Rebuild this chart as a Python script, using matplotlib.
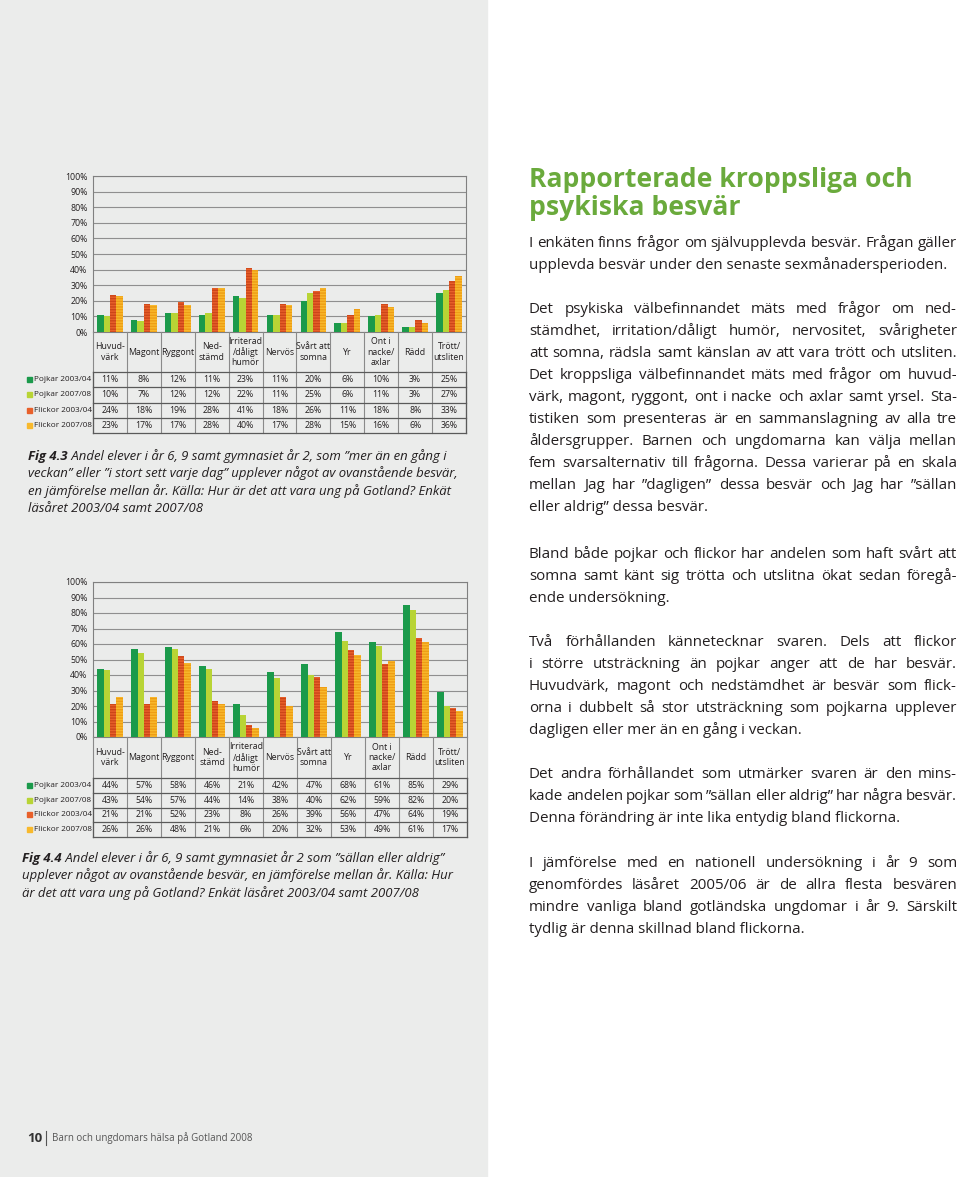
import matplotlib
matplotlib.use("Agg")
import matplotlib.pyplot as plt
import numpy as np
from matplotlib.patches import Rectangle

plt.rcParams['font.family'] = ['Open Sans', 'DejaVu Sans']

# --- data -------------------------------------------------------------
categories = ["Huvud-\nvärk", "Magont", "Ryggont", "Ned-\nstämd",
              "Irriterad\n/dåligt\nhumör", "Nervös", "Svårt att\nsomna", "Yr",
              "Ont i\nnacke/\naxlar", "Rädd", "Trött/\nutsliten"]
series_names = ["Pojkar 2003/04", "Pojkar 2007/08", "Flickor 2003/04", "Flickor 2007/08"]

# fig 4.3: "mer än en gång i veckan" / "i stort sett varje dag"
often_pojkar_0304 = [11, 8, 12, 11, 23, 11, 20, 6, 10, 3, 25]
often_pojkar_0708 = [10, 7, 12, 12, 22, 11, 25, 6, 11, 3, 27]
often_flickor_0304 = [24, 18, 19, 28, 41, 18, 26, 11, 18, 8, 33]
often_flickor_0708 = [23, 17, 17, 28, 40, 17, 28, 15, 16, 6, 36]

# fig 4.4: "sällan eller aldrig"
rarely_pojkar_0304 = [44, 57, 58, 46, 21, 42, 47, 68, 61, 85, 29]
rarely_pojkar_0708 = [43, 54, 57, 44, 14, 38, 40, 62, 59, 82, 20]
rarely_flickor_0304 = [21, 21, 52, 23, 8, 26, 39, 56, 47, 64, 19]
rarely_flickor_0708 = [26, 26, 48, 21, 6, 20, 32, 53, 49, 61, 17]

yticks = np.arange(0, 101, 10)

colors = ['#1b9a4b', '#b8d435', '#e8602a', '#f8b92c']
stripes = [None, None, '#cc4519', '#ee9d15']

PANEL = '#ebeceb'
INK = '#231f20'
GREEN = '#6aaa3c'

W, H = 960, 1177
fig = plt.figure(figsize=(W / 100, H / 100), dpi=100)
fig.patch.set_facecolor('white')
renderer = fig.canvas.get_renderer()


def fx(x):
    return x / W


def fy(y):
    return 1 - y / H


def box(l, t, r, b):
    return [l / W, 1 - b / H, (r - l) / W, (b - t) / H]


def text_w(s, **kw):
    t = fig.text(0, 0, s, **kw)
    w = t.get_window_extent(renderer).width
    t.remove()
    return w


def fit_size(s, target, **kw):
    return 10 * target / text_w(s, fontsize=10, **kw)


# grey left half of the page
fig.add_artist(Rectangle((0, 0), fx(487), 1, transform=fig.transFigure,
                         color=PANEL, zorder=-10))

legend_size = 5.9


def draw_chart(p_top, p_bot, cat_bot, tab_bot, right, data):
    left = 93
    fs = 6.3
    ax = fig.add_axes(box(left, p_top, right, p_bot))
    ax.set_facecolor(PANEL)
    x = np.arange(len(categories))
    w = 0.19
    for i, vals in enumerate(data):
        ax.bar(x + (i - 1.5) * w, vals, width=w, color=colors[i],
               edgecolor=stripes[i] or colors[i],
               hatch='------' if stripes[i] else None,
               linewidth=0, zorder=3)
    ax.set_xlim(-0.5, len(categories) - 0.5)
    ax.set_ylim(0, 100)
    ax.set_yticks(yticks)
    ax.set_yticklabels([f"{v}%" for v in yticks], fontsize=fs)
    ax.tick_params(axis='y', length=0, pad=4, colors=INK)
    ax.set_xticks([])
    ax.yaxis.grid(True, color='#8f8f8f', linewidth=0.8)
    ax.set_axisbelow(True)
    for s in ax.spines.values():
        s.set_color('#808080')
        s.set_linewidth(0.8)

    # table under the chart
    tb = fig.add_axes(box(left, p_bot, right, tab_bot))
    th = tab_bot - p_bot
    ch = cat_bot - p_bot
    rh = (tab_bot - cat_bot) / len(data)
    tb.set_xlim(-0.5, len(categories) - 0.5)
    tb.set_ylim(th, 0)
    tb.axis('off')
    for k in range(len(categories) + 1):
        tb.plot([k - 0.5, k - 0.5], [0, th], color='#8a8a8a', lw=0.8, clip_on=False)
    for r in range(len(data) + 1):
        y = ch + r * rh
        tb.plot([-0.5, len(categories) - 0.5], [y, y], color='#5a5a5a', lw=0.9, clip_on=False)
    for xe in (-0.5, len(categories) - 0.5):
        tb.plot([xe, xe], [ch, th], color='#5a5a5a', lw=0.9, clip_on=False)
    for j, lab in enumerate(categories):
        tb.text(j, ch / 2, lab, ha='center', va='center', fontsize=fs,
                linespacing=1.15, color=INK)
    for i, vals in enumerate(data):
        yc = ch + (i + 0.5) * rh
        for j, v in enumerate(vals):
            tb.text(j, yc, f"{v}%", ha='center', va='center', fontsize=fs, color=INK)
        fig.text(fx(34), fy(p_bot + yc), series_names[i], ha='left', va='center',
                 fontsize=legend_size, color=INK)
        fig.add_artist(Rectangle((fx(27), fy(p_bot + yc + 2.5)), 5 / W, 5 / H,
                                 transform=fig.transFigure, color=colors[i]))


draw_chart(176, 332, 372, 433, 466,
           [often_pojkar_0304, often_pojkar_0708, often_flickor_0304, often_flickor_0708])
draw_chart(582, 737, 778, 837, 467,
           [rarely_pojkar_0304, rarely_pojkar_0708, rarely_flickor_0304, rarely_flickor_0708])

# --- captions ---------------------------------------------------------
cap_43 = [" Andel elever i år 6, 9 samt gymnasiet år 2, som ”mer än en gång i",
          "veckan” eller ”i stort sett varje dag” upplever något av ovanstående besvär,",
          "en jämförelse mellan år. Källa: Hur är det att vara ung på Gotland? Enkät",
          "läsåret 2003/04 samt 2007/08"]
cap_44 = [" Andel elever i år 6, 9 samt gymnasiet år 2 som ”sällan eller aldrig”",
          "upplever något av ovanstående besvär, en jämförelse mellan år. Källa: Hur",
          "är det att vara ung på Gotland? Enkät läsåret 2003/04 samt 2007/08"]

cap_size = fit_size(cap_44[1], 430, style='italic')


def caption(x, y0, lead, lines, step=17.4):
    for k, line in enumerate(lines):
        y = fy(y0 + k * step)
        xx = x
        if k == 0:
            fig.text(fx(xx), y, lead, fontsize=cap_size, style='italic',
                     weight='bold', va='baseline', color=INK)
            xx += text_w(lead, fontsize=cap_size, style='italic', weight='bold')
        fig.text(fx(xx), y, line, fontsize=cap_size, style='italic',
                 va='baseline', color=INK)


caption(28, 460, "Fig 4.3", cap_43)
caption(22, 862, "Fig 4.4", cap_44)

# --- right column text ------------------------------------------------
title = ["Rapporterade kroppsliga och", "psykiska besvär"]
title_size = fit_size(title[0], 384, weight='bold')
for k, line in enumerate(title):
    fig.text(fx(529), fy(187 + k * 28), line, fontsize=title_size, weight='bold',
             color=GREEN, va='baseline')

paragraphs = [
    ["I enkäten finns frågor om självupplevda besvär. Frågan gäller",
     "upplevda besvär under den senaste sexmånadersperioden."],
    ["Det psykiska välbefinnandet mäts med frågor om ned-",
     "stämdhet, irritation/dåligt humör, nervositet, svårigheter",
     "att somna, rädsla samt känslan av att vara trött och utsliten.",
     "Det kroppsliga välbefinnandet mäts med frågor om huvud-",
     "värk, magont, ryggont, ont i nacke och axlar samt yrsel. Sta-",
     "tistiken som presenteras är en sammanslagning av alla tre",
     "åldersgrupper. Barnen och ungdomarna kan välja mellan",
     "fem svarsalternativ till frågorna. Dessa varierar på en skala",
     "mellan Jag har ”dagligen” dessa besvär och Jag har ”sällan",
     "eller aldrig” dessa besvär."],
    ["Bland både pojkar och flickor har andelen som haft svårt att",
     "somna samt känt sig trötta och utslitna ökat sedan föregå-",
     "ende undersökning."],
    ["Två förhållanden kännetecknar svaren. Dels att flickor",
     "i större utsträckning än pojkar anger att de har besvär.",
     "Huvudvärk, magont och nedstämdhet är besvär som flick-",
     "orna i dubbelt så stor utsträckning som pojkarna upplever",
     "dagligen eller mer än en gång i veckan."],
    ["Det andra förhållandet som utmärker svaren är den mins-",
     "kade andelen pojkar som ”sällan eller aldrig” har några besvär.",
     "Denna förändring är inte lika entydig bland flickorna."],
    ["I jämförelse med en nationell undersökning i år 9 som",
     "genomfördes läsåret 2005/06 är de allra flesta besvären",
     "mindre vanliga bland gotländska ungdomar i år 9. Särskilt",
     "tydlig är denna skillnad bland flickorna."],
]
para_tops = [242, 308, 553, 641, 773, 862]

body_size = fit_size(paragraphs[0][1], 419)
X0, X1 = 529, 957


def put_line(y, line, justify):
    words = line.split(' ')
    if not justify or len(words) < 2:
        fig.text(fx(X0), fy(y), line, fontsize=body_size, color=INK, va='baseline')
        return
    ws = [text_w(wd, fontsize=body_size) for wd in words]
    gap = (X1 - X0 - sum(ws)) / (len(words) - 1)
    xx = X0
    for wd, ww in zip(words, ws):
        fig.text(fx(xx), fy(y), wd, fontsize=body_size, color=INK, va='baseline')
        xx += ww + gap


for top, para in zip(para_tops, paragraphs):
    for k, line in enumerate(para):
        put_line(top + 5 + k * 22.05, line, k < len(para) - 1)

# --- footer -----------------------------------------------------------
fig.text(fx(27), fy(1142), "10", fontsize=9.5, weight='bold', color='#333333', va='baseline')
fig.add_artist(plt.Line2D([fx(46), fx(46)], [fy(1131), fy(1145)],
                          transform=fig.transFigure, color='#555555', lw=0.8))
foot = "Barn och ungdomars hälsa på Gotland 2008"
fig.text(fx(52), fy(1141), foot, fontsize=fit_size(foot, 201), color='#555555', va='baseline')

fig.savefig("out.png", dpi=100)
